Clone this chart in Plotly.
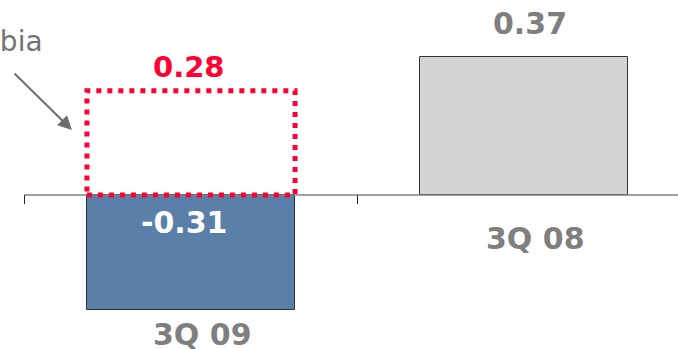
import plotly.graph_objects as go

# ---- data ----
categories = ["3Q 09", "3Q 08"]
values = [-0.31, 0.37]
bar_colors = ["#5a7fa8", "#d4d4d4"]
value_labels = ["-0.31", "0.37"]
excl_value = 0.28          # dotted outline box on 3Q 09
excl_label = "0.28"
callout_text = "Colombia"

BAR_W = 0.625
GREY = "#7f7f7f"
RED = "#ff0033"
FONT = "DejaVu Sans"

fig = go.Figure()
fig.add_trace(go.Bar(
    x=categories, y=values, width=BAR_W,
    marker=dict(color=bar_colors, line=dict(color="#333333", width=1)),
    hoverinfo="skip", showlegend=False,
))

shapes = []
# axis line starting at the first category boundary
shapes.append(dict(type="line", xref="x", yref="y", x0=-0.5, x1=len(categories) - 0.5,
                   y0=0, y1=0, line=dict(color="#808080", width=1.5), layer="above"))
# tick marks at category boundaries
for i in range(len(categories) + 1):
    shapes.append(dict(type="line", xref="x", yref="y", ysizemode="pixel", yanchor=0,
                       x0=i - 0.5, x1=i - 0.5, y0=0, y1=-9,
                       line=dict(color="#222222", width=1)))
# dotted box for the excluded value
shapes.append(dict(type="rect", xref="x", yref="y",
                   x0=0 - BAR_W / 2, x1=0 + BAR_W / 2, y0=0, y1=excl_value,
                   line=dict(color=RED, width=5, dash="5px,6px"),
                   fillcolor="rgba(0,0,0,0)", layer="above"))

annotations = []
# value labels
annotations.append(dict(x=categories[0], y=0, xref="x", yref="y", text=value_labels[0],
                        showarrow=False, yanchor="middle", xshift=-7, yshift=-27,
                        font=dict(family=FONT, size=30, color="white", weight="bold")))
annotations.append(dict(x=categories[1], y=values[1], xref="x", yref="y", text=value_labels[1],
                        showarrow=False, yanchor="middle", xshift=6, yshift=34,
                        font=dict(family=FONT, size=30, color=GREY, weight="bold")))
annotations.append(dict(x=categories[0], y=excl_value, xref="x", yref="y", text=excl_label,
                        showarrow=False, yanchor="middle", xshift=-2, yshift=24,
                        font=dict(family=FONT, size=29, color=RED, weight="bold")))
# category labels
annotations.append(dict(x=categories[0], y=values[0], xref="x", yref="y", text=categories[0],
                        showarrow=False, yanchor="middle", xshift=11, yshift=-24,
                        font=dict(family=FONT, size=30, color=GREY, weight="bold")))
annotations.append(dict(x=categories[1], y=0, xref="x", yref="y", text=categories[1],
                        showarrow=False, yanchor="middle", xshift=11, yshift=-43,
                        font=dict(family=FONT, size=30, color=GREY, weight="bold")))
# call-out text and arrow
annotations.append(dict(x=45 / 678, y=1 - 42 / 349, xref="paper", yref="paper",
                        text=callout_text, showarrow=False, xanchor="right", yanchor="middle",
                        font=dict(family=FONT, size=28, color="#737373")))
annotations.append(dict(x=72 / 678, y=1 - 130 / 349, xref="paper", yref="paper", text="",
                        showarrow=True, ax=-59, ay=-58, arrowcolor="#6e6e6e",
                        arrowwidth=2, arrowhead=2, arrowsize=1.4, standoff=0))

SCALE = 372.0  # px per unit
y_top = 195 / SCALE
y_bot = -(349 - 195) / SCALE
x_lo = -191 / 333
x_hi = (678 - 191) / 333

fig.update_layout(
    width=678, height=349,
    margin=dict(l=0, r=0, t=0, b=0),
    paper_bgcolor="white", plot_bgcolor="white",
    xaxis=dict(type="category", categoryorder="array", categoryarray=categories,
               range=[x_lo, x_hi], visible=False, fixedrange=True),
    yaxis=dict(range=[y_bot, y_top], visible=False, fixedrange=True),
    shapes=shapes, annotations=annotations,
    bargap=0,
)

fig.write_html("out.html")
